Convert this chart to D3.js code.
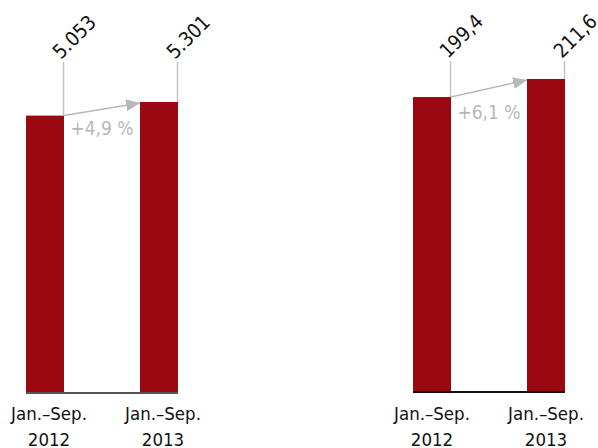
<!DOCTYPE html>
<html>
<head>
<meta charset="utf-8">
<script src="https://cdn.jsdelivr.net/npm/d3@7"></script>
<style>
html,body{margin:0;padding:0;background:#fff;}
svg{display:block;}
text{font-family:"Liberation Sans Narrow","Arial Narrow","DejaVu Sans Condensed",sans-serif;font-stretch:condensed;}
</style>
</head>
<body>
<svg id="chart" width="598" height="448"></svg>
<script>
const categories = ["Jan.–Sep.\n2012", "Jan.–Sep.\n2013"];
const leftValues = [5053, 5301];
const leftLabels = ["5.053", "5.301"];
const leftChange = "+4,9 %";
const rightValues = [199.4, 211.6];
const rightLabels = ["199,4", "211,6"];
const rightChange = "+6,1 %";

const svg = d3.select("#chart");
const BAR = "#9b0812", GRAY = "#b8b8b8";

svg.append("defs").append("marker")
  .attr("id","arrow").attr("viewBox","0 0 14 12").attr("refX",14).attr("refY",6)
  .attr("markerWidth",14).attr("markerHeight",12).attr("markerUnits","userSpaceOnUse")
  .attr("orient","auto")
  .append("path").attr("d","M0,0 L14,6 L0,12 Z").attr("fill",GRAY);

function panel(cfg){
  const g = svg.append("g");
  const x = d3.scaleBand().domain(categories).range(cfg.xr).paddingInner(2/3).paddingOuter(0);
  const y = d3.scaleLinear().domain([0, d3.max(cfg.values)]).range([cfg.base, cfg.top]);
  const data = categories.map((c,i)=>({c, v:cfg.values[i], l:cfg.labels[i]}));

  g.selectAll("rect").data(data).join("rect")
    .attr("x", d=>x(d.c)).attr("y", d=>y(d.v))
    .attr("width", x.bandwidth()).attr("height", d=>y(0)-y(d.v))
    .attr("fill", BAR);

  g.append("line").attr("x1", cfg.xr[0]).attr("x2", cfg.xr[1])
    .attr("y1", y(0)).attr("y2", y(0)).attr("stroke", cfg.baseColor).attr("stroke-width", 2);

  g.selectAll("line.lead").data(data).join("line").attr("class","lead")
    .attr("x1", d=>x(d.c)+x.bandwidth()-0.5).attr("x2", d=>x(d.c)+x.bandwidth()-0.5)
    .attr("y1", cfg.labelY).attr("y2", d=>y(d.v))
    .attr("stroke", "#c4c4c4").attr("stroke-width", 1.5);

  g.selectAll("text.val").data(data).join("text").attr("class","val")
    .attr("transform", d=>`translate(${x(d.c)+x.bandwidth()-3},${cfg.labelY-2}) rotate(-45)`)
    .attr("font-size", 20).attr("fill","#111").text(d=>d.l);

  const d0 = data[0], d1 = data[1];
  g.append("line")
    .attr("x1", x(d0.c)+x.bandwidth()).attr("y1", y(d0.v))
    .attr("x2", x(d1.c)).attr("y2", y(d1.v)+1)
    .attr("stroke", GRAY).attr("stroke-width", 1.5).attr("marker-end","url(#arrow)");

  g.append("text").attr("x", (x(d0.c)+x.bandwidth()+x(d1.c))/2).attr("y", y(d0.v)+cfg.pctDy)
    .attr("text-anchor","middle").attr("font-size", 19).attr("fill", GRAY).text(cfg.change);

  const cl = g.selectAll("text.cat").data(data).join("text").attr("class","cat")
    .attr("text-anchor","middle").attr("font-size", 18.5).attr("fill","#111");
  cl.each(function(d){
    const parts = d.c.split("\n");
    const t = d3.select(this);
    parts.forEach((p,i)=>{
      t.append("tspan").attr("x", x(d.c)+x.bandwidth()/2+cfg.labDx).attr("y", 420 + i*25.5).text(p);
    });
  });
}

panel({xr:[26,178], base:393, top:102, values:leftValues, labels:leftLabels, change:leftChange,
       labelY:62, baseColor:"#555", pctDy:19, labDx:4});
panel({xr:[413,565], base:392, top:79, values:rightValues, labels:rightLabels, change:rightChange,
       labelY:61, baseColor:"#111", pctDy:22, labDx:0});
</script>
</body>
</html>
